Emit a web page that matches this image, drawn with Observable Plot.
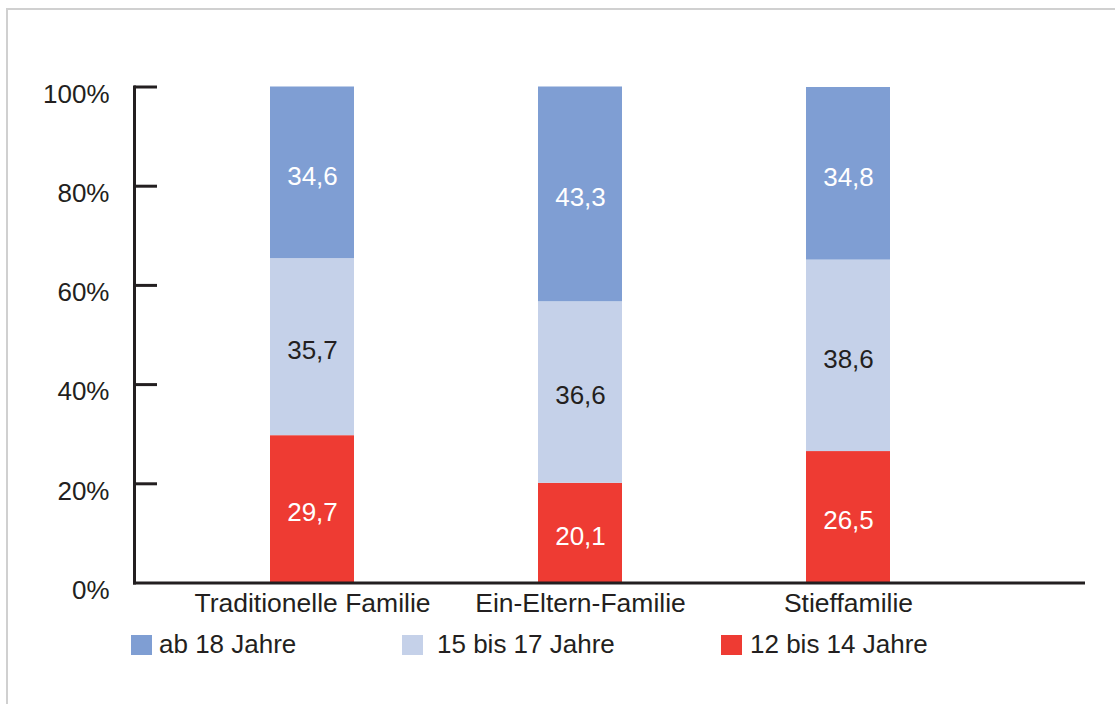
<!DOCTYPE html>
<html>
<head>
<meta charset="utf-8">
<script src="https://cdn.jsdelivr.net/npm/d3@7"></script>
<script src="https://cdn.jsdelivr.net/npm/@observablehq/plot@0.6"></script>
<style>
  html, body { margin: 0; padding: 0; background: #fff; width: 1115px; height: 704px; overflow: hidden; }
  body { position: relative; font-family: "Liberation Sans", Arial, sans-serif; color: #231f20; }
  #frame { position: absolute; left: 6px; top: 8px; width: 1200px; height: 800px; border-left: 2px solid #d0d0d0; border-top: 2px solid #d0d0d0; box-sizing: border-box; }
  #chart { position: absolute; left: 0; top: 0; }
  .lg { position: absolute; font-size: 26px; line-height: 26px; white-space: nowrap; }
  .sw { position: absolute; width: 21px; height: 20px; }
</style>
</head>
<body>
<div id="frame"></div>
<div id="chart"></div>
<div id="legend"></div>
<script>
const categories = ["Traditionelle Familie", "Ein-Eltern-Familie", "Stieffamilie"];
const groups = ["12 bis 14 Jahre", "15 bis 17 Jahre", "ab 18 Jahre"];
const v12bis14 = [29.7, 20.1, 26.5];
const v15bis17 = [35.7, 36.6, 38.6];
const vAb18 = [34.6, 43.3, 34.8];
const yTicks = [0, 20, 40, 60, 80, 100];
const colors = ["#ee3b33", "#c5d1e9", "#7f9ed3"];
const labelColors = ["#ffffff", "#231f20", "#ffffff"];
const legendOrder = ["ab 18 Jahre", "15 bis 17 Jahre", "12 bis 14 Jahre"];

const seriesValues = [v12bis14, v15bis17, vAb18];
const data = [];
groups.forEach((g, gi) => {
  categories.forEach((c, ci) => {
    data.push({category: c, group: g, value: seriesValues[gi][ci]});
  });
});
const fmt = v => d3.format(".1f")(v).replace(".", ",");
const ink = "#231f20";

const chart = Plot.plot({
  width: 1115,
  height: 630,
  marginLeft: 134,
  marginRight: 32,
  marginTop: 86.5,
  marginBottom: 47.5,
  style: {fontFamily: "'Liberation Sans', Arial, sans-serif", fontSize: "26px", color: ink, background: "transparent"},
  x: {domain: categories, range: [176.75, 982.25], paddingInner: 0.687, paddingOuter: 0.3435, align: 0.5, label: null},
  y: {domain: [0, 100], label: null},
  color: {domain: groups, range: colors},
  marks: [
    Plot.barY(data, {x: "category", y: "value", fill: "group", order: groups}),
    Plot.text(data, Plot.stackY({x: "category", y: "value", z: "group", order: groups,
      text: d => fmt(d.value),
      fill: d => labelColors[groups.indexOf(d.group)],
      fontSize: 26, dy: 3.5})),
    Plot.frame({anchor: "left", stroke: ink, strokeWidth: 3}),
    Plot.frame({anchor: "bottom", stroke: ink, strokeWidth: 3}),
    Plot.axisY({ticks: yTicks, tickSize: 0, tickPadding: 25, dy: 7.5, tickFormat: d => d + "%", fontSize: 26, fill: ink}),
    Plot.axisY({ticks: yTicks.slice(1), tickSize: -23, text: null, stroke: ink, strokeWidth: 3, strokeOpacity: 1}),
    Plot.axisX({tickSize: 0, tickPadding: 10, fontSize: 26.5, fill: ink})
  ]
});
document.getElementById("chart").appendChild(chart);

const legend = document.getElementById("legend");
const swatchX = [131, 402, 721];
const textX = [159, 437, 750];
legendOrder.forEach((g, i) => {
  const sw = document.createElement("div");
  sw.className = "sw";
  sw.style.left = swatchX[i] + "px";
  sw.style.top = "635px";
  sw.style.background = colors[groups.indexOf(g)];
  legend.appendChild(sw);
  const t = document.createElement("div");
  t.className = "lg";
  t.style.left = textX[i] + "px";
  t.style.top = "631px";
  t.textContent = g;
  legend.appendChild(t);
});
</script>
</body>
</html>
